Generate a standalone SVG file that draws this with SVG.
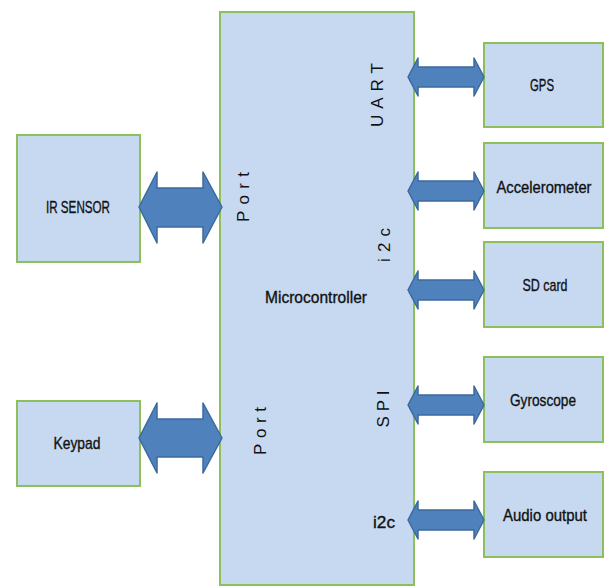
<svg xmlns="http://www.w3.org/2000/svg" width="605" height="586" viewBox="0 0 605 586">
<style>
.box{fill:#C6D9F1;stroke:#8DBF5A;stroke-width:2}
.arr{fill:#4F81BD;stroke:#3C6A9E;stroke-width:1.5;stroke-linejoin:round}
.lbl{font-family:"Liberation Sans",Arial,sans-serif;font-size:17px;fill:#111;stroke:#111;stroke-width:0.35;text-anchor:middle}
.rot{font-family:"Liberation Sans",Arial,sans-serif;font-size:17px;fill:#111;text-anchor:middle}
</style>
<rect width="605" height="586" fill="#fff"/>
<g id="microcontroller">
<rect class="box" x="220" y="12" width="194" height="573"/>
<text class="lbl" x="316" y="303" textLength="102" lengthAdjust="spacingAndGlyphs">Microcontroller</text>
<text class="rot" transform="translate(243,197) rotate(-90)" x="0" y="6" textLength="50" lengthAdjust="spacing">Port</text>
<text class="rot" transform="translate(260,431) rotate(-90)" x="0" y="6" textLength="48" lengthAdjust="spacing">Port</text>
<text class="rot" transform="translate(377,95) rotate(-90)" x="0" y="6" textLength="64" lengthAdjust="spacing">UART</text>
<text class="rot" transform="translate(384,245) rotate(-90)" x="0" y="6" textLength="34" lengthAdjust="spacing">i2c</text>
<text class="rot" transform="translate(383,409) rotate(-90)" x="0" y="6" textLength="37" lengthAdjust="spacing">SPI</text>
<text class="lbl" x="384" y="528" textLength="22" lengthAdjust="spacingAndGlyphs">i2c</text>
</g>
<g id="ir-sensor">
<rect class="box" x="17" y="135" width="123" height="127"/>
<text class="lbl" x="78" y="213" textLength="64" lengthAdjust="spacingAndGlyphs">IR SENSOR</text>
</g>
<g id="keypad">
<rect class="box" x="17" y="401" width="123" height="85"/>
<text class="lbl" x="77" y="449" textLength="47" lengthAdjust="spacingAndGlyphs">Keypad</text>
</g>
<g id="gps">
<rect class="box" x="484" y="43" width="119" height="84"/>
<text class="lbl" x="542" y="91" textLength="24" lengthAdjust="spacingAndGlyphs">GPS</text>
</g>
<g id="accelerometer">
<rect class="box" x="484" y="143" width="119" height="85"/>
<text class="lbl" x="544" y="193" textLength="95" lengthAdjust="spacingAndGlyphs">Accelerometer</text>
</g>
<g id="sd-card">
<rect class="box" x="484" y="242" width="119" height="85"/>
<text class="lbl" x="545" y="291" textLength="45" lengthAdjust="spacingAndGlyphs">SD card</text>
</g>
<g id="gyroscope">
<rect class="box" x="484" y="357" width="119" height="85"/>
<text class="lbl" x="543" y="406" textLength="66" lengthAdjust="spacingAndGlyphs">Gyroscope</text>
</g>
<g id="audio-output">
<rect class="box" x="484" y="472" width="119" height="85"/>
<text class="lbl" x="545" y="521" textLength="84" lengthAdjust="spacingAndGlyphs">Audio output</text>
</g>
<g id="connectors">
<polygon class="arr" points="139,207 157,172 157,188 203,188 203,172 222,207 203,243 203,227 157,227 157,243"/>
<polygon class="arr" points="139,438 157,403 157,419 203,419 203,403 222,438 203,473 203,457 157,457 157,473"/>
<polygon class="arr" points="408,77 418,58 418,67 474,67 474,58 484,77 474,96 474,87 418,87 418,96"/>
<polygon class="arr" points="408,191 418,172 418,181 474,181 474,172 484,191 474,210 474,201 418,201 418,210"/>
<polygon class="arr" points="408,290 418,271 418,280 474,280 474,271 484,290 474,309 474,300 418,300 418,309"/>
<polygon class="arr" points="408,405 418,386 418,395 474,395 474,386 484,405 474,424 474,415 418,415 418,424"/>
<polygon class="arr" points="408,520 418,501 418,510 474,510 474,501 484,520 474,539 474,530 418,530 418,539"/>
</g>
</svg>
